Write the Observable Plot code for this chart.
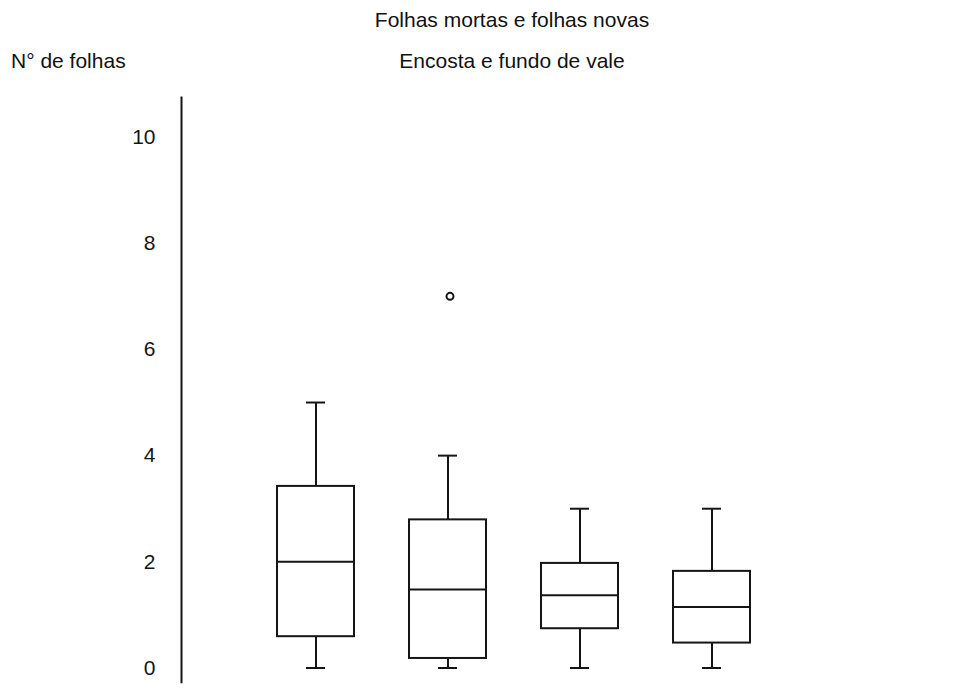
<!DOCTYPE html>
<html>
<head>
<meta charset="utf-8">
<script src="https://cdn.jsdelivr.net/npm/d3@7"></script>
<script src="https://cdn.jsdelivr.net/npm/@observablehq/plot@0.6"></script>
<style>
  body { margin: 0; background: #fff; }
  #wrap { position: relative; width: 967px; height: 691px; font-family: "Liberation Sans", Arial, sans-serif; color: #111; }
  #head { position: relative; height: 80px; }
  .t { position: absolute; font-size: 21px; line-height: 21px; white-space: nowrap; }
  .c { left: 512px; transform: translateX(-50%); }
</style>
</head>
<body>
<div id="wrap">
  <div id="head">
    <div class="t c" style="top:9px">Folhas mortas e folhas novas</div>
    <div class="t c" style="top:50px">Encosta e fundo de vale</div>
    <div class="t" style="left:11px;top:50px">N° de folhas</div>
  </div>
  <div id="chart"></div>
</div>
<script>
// Five-number summaries for each group (number of leaves)
const grupos = ["Mortas - encosta", "Novas - encosta", "Mortas - fundo de vale", "Novas - fundo de vale"];
const minimos = [0, 0, 0, 0];
const quartil1 = [0.59, 0.18, 0.74, 0.47];
const medianas = [2, 1.48, 1.37, 1.15];
const quartil3 = [3.42, 2.79, 1.97, 1.82];
const maximos = [5, 4, 3, 3];
// Outlying observations
const atipicosGrupo = ["Novas - encosta"];
const atipicosValor = [7];
// Y axis tick values
const yTicks = [0, 2, 4, 6, 8, 10];

const caixas = grupos.map((g, i) => ({
  grupo: g, min: minimos[i], q1: quartil1[i], med: medianas[i], q3: quartil3[i], max: maximos[i]
}));
const atipicos = atipicosGrupo.map((g, i) => ({grupo: g, valor: atipicosValor[i]}));

const ink = "#151515";
const sw = 2;

const chart = Plot.plot({
  width: 967,
  height: 611,
  marginLeft: 181,
  marginRight: 122,
  marginTop: 17,
  marginBottom: 9.3,
  style: {fontFamily: "'Liberation Sans', Arial, sans-serif", fontSize: "21px", color: ink, background: "#fff"},
  x: {domain: grupos, axis: null, paddingInner: 0.419, paddingOuter: 0.7155},
  y: {domain: [-0.267, 10.744]},
  marks: [
    Plot.axisY(yTicks, {tickSize: 0, tickPadding: 26, label: null, fontSize: 21, tickFormat: d => String(d)}),
    Plot.frame({anchor: "left", stroke: ink, strokeWidth: sw}),
    // whiskers
    Plot.ruleX(caixas, {x: "grupo", y1: "q3", y2: "max", stroke: ink, strokeWidth: sw}),
    Plot.ruleX(caixas, {x: "grupo", y1: "min", y2: "q1", stroke: ink, strokeWidth: sw}),
    Plot.tickY(caixas, {x: "grupo", y: "max", insetLeft: 29, insetRight: 29, stroke: ink, strokeWidth: sw}),
    Plot.tickY(caixas, {x: "grupo", y: "min", insetLeft: 29, insetRight: 29, stroke: ink, strokeWidth: sw}),
    // boxes and medians
    Plot.barY(caixas, {x: "grupo", y1: "q1", y2: "q3", fill: "white", stroke: ink, strokeWidth: sw}),
    Plot.tickY(caixas, {x: "grupo", y: "med", stroke: ink, strokeWidth: sw}),
    // outliers
    Plot.dot(atipicos, {x: "grupo", y: "valor", r: 3.5, dx: 2, fill: "white", stroke: ink, strokeWidth: sw})
  ]
});
document.getElementById("chart").appendChild(chart);
</script>
</body>
</html>
